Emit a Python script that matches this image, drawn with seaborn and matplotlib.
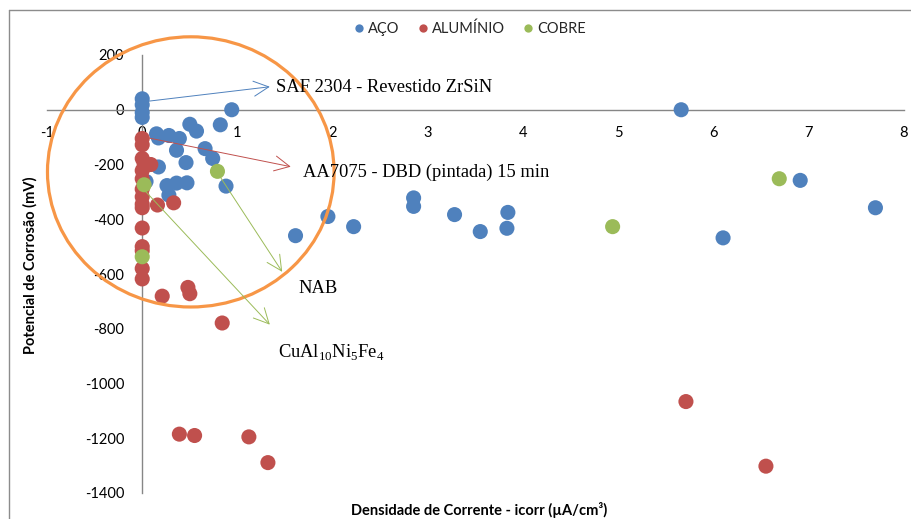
import matplotlib
matplotlib.use("Agg")
import matplotlib.pyplot as plt
import seaborn as sns
import pandas as pd
from matplotlib.patches import Ellipse
from matplotlib.lines import Line2D

# ---- data ----
aco_x = [0.00, 0.00, 0.00, 0.00, 0.94, 0.50, 0.57, 0.82, 0.15, 0.17, 0.28, 0.39,
         0.36, 0.66, 0.74, 0.46, 0.17, 0.88, 0.26, 0.36, 0.47, 0.28, 0.04,
         1.61, 1.95, 2.22, 2.85, 2.85, 3.28, 3.55, 3.83, 3.84, 5.66, 6.10, 6.91, 7.70]
aco_y = [40, 18, -10, -28, 0, -53, -78, -55, -88, -103, -94, -105,
         -148, -142, -178, -193, -209, -279, -277, -268, -267, -312, -262,
         -460, -390, -427, -322, -353, -383, -445, -433, -375, 0, -468, -258, -358]

aluminio_x = [0.00, 0.00, 0.00, 0.02, 0.09, 0.00, 0.00, 0.00, 0.00, 0.00, 0.00, 0.16, 0.33,
              0.00, 0.00, 0.00, 0.00, 0.00, 0.21, 0.48, 0.50, 0.84, 0.39, 0.55, 1.12, 1.32,
              5.71, 6.55]
aluminio_y = [-105, -128, -178, -197, -200, -222, -252, -290, -318, -345, -358, -348, -340,
              -432, -500, -515, -580, -618, -681, -649, -672, -779, -1185, -1190, -1195, -1289,
              -1066, -1302]

cobre_x = [0.02, 0.79, 0.00, 4.94, 6.69]
cobre_y = [-274, -225, -537, -427, -252]

materials = ["AÇO", "ALUMÍNIO", "COBRE"]
colors = ["#4F81BD", "#C0504D", "#9BBB59"]

x_ticks = list(range(-1, 9))
y_ticks = list(range(-1400, 201, 200))

df = pd.DataFrame({
    "icorr": aco_x + aluminio_x + cobre_x,
    "ecorr": aco_y + aluminio_y + cobre_y,
    "material": [materials[0]] * len(aco_x) + [materials[1]] * len(aluminio_x)
                + [materials[2]] * len(cobre_x),
})

sns.set_theme(style="white")
plt.rcParams['font.family'] = ['Lato', 'DejaVu Sans']

W, H = 911, 519
fig = plt.figure(figsize=(W / 100, H / 100), dpi=100)
ax = fig.add_axes([47 / W, 1 - 493 / H, 857 / W, 438 / H])

sns.scatterplot(data=df, x="icorr", y="ecorr", hue="material", hue_order=materials,
                palette=colors, s=118, linewidth=0, alpha=1, ax=ax, zorder=3)

ax.set_xlim(-1, 8)
ax.set_ylim(-1400, 200)
ax.set_xticks(x_ticks)
ax.set_yticks(y_ticks)
ax.set_xticklabels([str(t) for t in x_ticks])
ax.set_yticklabels([str(t) for t in y_ticks])

for side in ["top", "right"]:
    ax.spines[side].set_visible(False)
ax.spines["left"].set_position(("data", 0))
ax.spines["bottom"].set_position(("data", 0))
for side in ["left", "bottom"]:
    ax.spines[side].set_color("#868686")
    ax.spines[side].set_linewidth(1.0)
ax.tick_params(axis="both", direction="out", length=5, width=1, color="#868686",
               labelsize=10.5, labelcolor="#000000")
ax.tick_params(axis="y", pad=8)
ax.tick_params(axis="x", pad=7)
ax.set_facecolor("white")

ax.set_xlabel("Densidade de Corrente - icorr (µA/cm³)", fontsize=10.5,
              fontweight="bold", color="#000000", va="center")
ax.set_ylabel("Potencial de Corrosão (mV)", fontsize=10.5,
              fontweight="bold", color="#000000", va="center")
ax.xaxis.set_label_coords((479 - 47) / 857, (493 - 510) / 438)
ax.yaxis.set_label_coords((30 - 47) / 857, (493 - 265) / 438)

sns.move_legend(ax, "center", bbox_to_anchor=((468 - 47) / 857, (493 - 29) / 438),
                ncol=3, frameon=False, title=None, fontsize=10.5, markerscale=0.55,
                handletextpad=0.0, columnspacing=1.0, handlelength=1.2)

# orange highlight circle
ax.add_patch(Ellipse((0.51, -227), width=3.01, height=987, fill=False,
                     ec="#F79646", lw=2.3, zorder=4, clip_on=False))

serif = ["Liberation Serif", "DejaVu Serif"]
notes = [
    ((0.01, 29), (1.34, 84), (1.41, 80), "SAF 2304 - Revestido ZrSiN", colors[0]),
    ((0.01, -99), (1.56, -208), (1.69, -230), "AA7075 - DBD (pintada) 15 min", colors[1]),
    ((0.79, -230), (1.47, -592), (1.64, -654), "NAB", colors[2]),
    ((0.01, -289), (1.34, -785), (1.43, -884),
     r"CuAl$_\mathregular{10}$Ni$_\mathregular{5}$Fe$_\mathregular{4}$", colors[2]),
]
for start, end, tpos, label, col in notes:
    ax.annotate("", xy=end, xytext=start,
                arrowprops=dict(arrowstyle="->,head_length=0.9,head_width=0.45",
                                color=col, lw=0.7, shrinkA=0, shrinkB=0),
                zorder=5, annotation_clip=False)
    ax.text(tpos[0], tpos[1], label, fontsize=13.3, family=serif, color="#000000",
            ha="left", va="center", zorder=6)

# partial chart-area frame (top and left)
fig.add_artist(Line2D([9 / W, 1], [1 - 10 / H, 1 - 10 / H], transform=fig.transFigure,
                      color="#8c8c8c", lw=1.0))
fig.add_artist(Line2D([9 / W, 9 / W], [0, 1 - 10 / H], transform=fig.transFigure,
                      color="#8c8c8c", lw=1.0))

fig.savefig("out.png", dpi=100, facecolor="white")
